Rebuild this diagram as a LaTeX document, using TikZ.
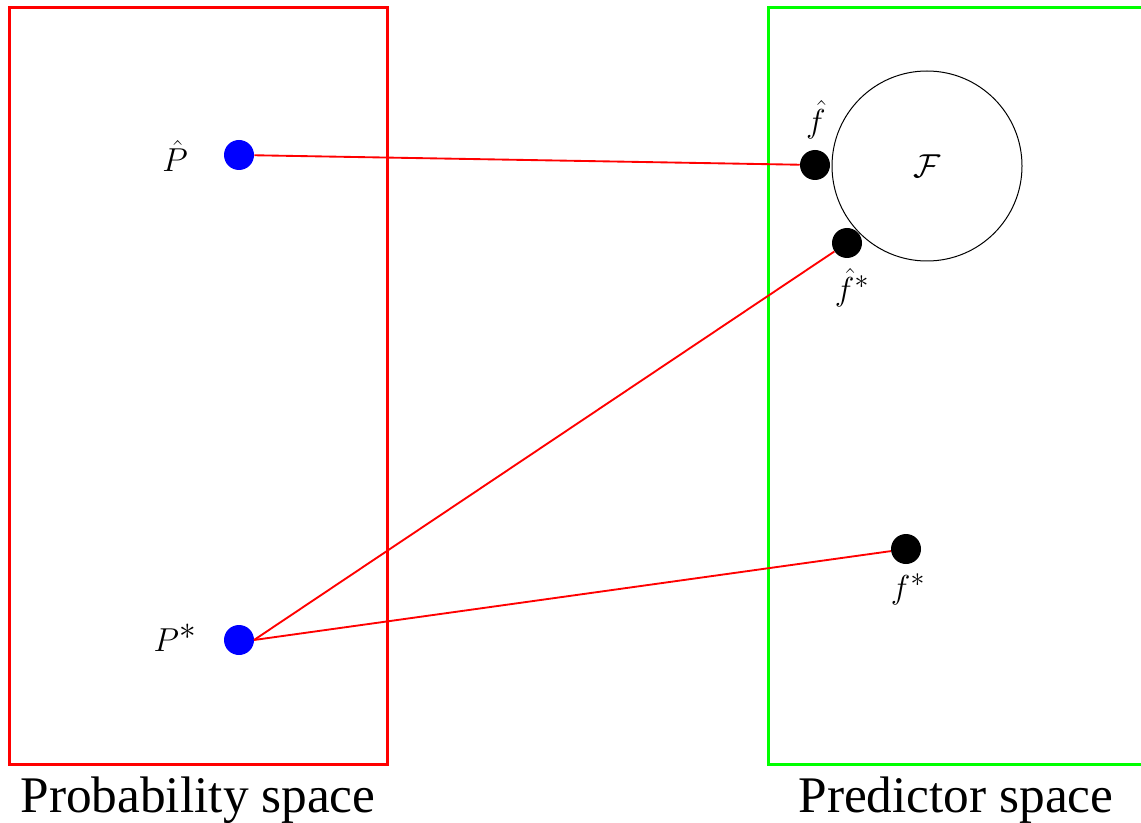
\documentclass[tikz,border=0pt]{standalone}
\usepackage{fontspec}
\setmainfont{Liberation Serif}
\begin{document}
\begin{tikzpicture}[x=0.75pt,y=-0.75pt,
  space/.style={line width=2.25pt},
  bluedot/.style={circle,fill=blue,inner sep=0pt,minimum size=22.5pt},
  blackdot/.style={circle,fill=black,inner sep=0pt,minimum size=22.5pt},
  link/.style={red,line width=1.4pt},
  biglabel/.style={font=\fontsize{38.5}{46}\selectfont,anchor=base},
  plabel/.style={font=\fontsize{33}{40}\selectfont},
  flabel/.style={font=\fontsize{29}{35}\selectfont}]
\useasboundingbox (0,0) rectangle (1141,823);
\begin{scope}
\clip (0,0) rectangle (1141,823);
\draw[space,red] (9,8) rectangle (387,764);
\draw[space,green] (768,8) rectangle (1160,764);
\end{scope}
\node[circle,draw,line width=0.75pt,inner sep=0pt,minimum size=142.5pt] (F) at (927,166) {};
\node[font=\fontsize{26}{31}\selectfont] (Flab) at (927,166) {$\mathcal{F}$};
\node[bluedot] (Ph) at (239,155) {};
\node[bluedot] (Ps) at (239,640) {};
\coordinate (Pse) at (254,640);
\node[blackdot] (fh) at (815,165) {};
\node[blackdot] (fhs) at (847,243) {};
\node[blackdot] (fs) at (906,549) {};
\node[plabel] (Phl) at (175,156) {$\hat{P}$};
\node[plabel] (Psl) at (175,638) {$P^*$};
\node[flabel] (fhl) at (816,120) {$\hat{f}$};
\node[flabel] (fhsl) at (852,288) {$\hat{f}^*$};
\node[flabel] (fsl) at (908,589) {$f^*$};
\draw[link] (Ph) -- (fh);
\draw[link] (Pse) -- (fhs);
\draw[link] (Pse) -- (fs);
\node[biglabel] (pl) at (198,812) {Probability space};
\node[biglabel] (prl) at (956,812) {Predictor space};
\end{tikzpicture}
\end{document}
